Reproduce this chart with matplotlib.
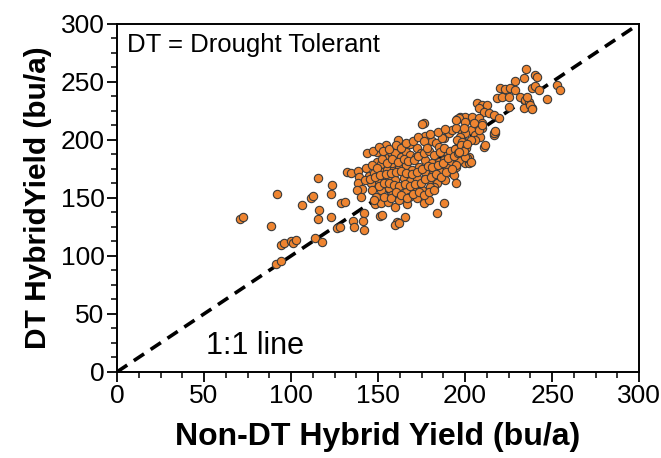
import matplotlib
matplotlib.use("Agg")
import matplotlib.pyplot as plt
from matplotlib.ticker import MultipleLocator, AutoMinorLocator

plt.rcParams['font.family'] = ['Liberation Sans', 'DejaVu Sans']

# Non-DT hybrid yield (x) and DT hybrid yield (y), bu/a
non_dt = [115.7, 92.2, 111.3, 112.6, 106.1, 70.6, 72.3, 88.2, 115.7, 94.1, 96.0, 100.2, 101.4, 103.1, 113.7,
          117.6, 91.6, 94.1, 128.9, 130.8, 148.0, 151.4, 155.6, 160.0, 166.7, 122.8, 126.2, 128.1, 135.5, 136.1,
          141.9, 141.1, 151.0, 152.0, 160.8, 165.4, 132.3, 134.2, 138.6, 139.0, 123.3, 122.8, 138.6, 140.9, 138.1,
          140.0, 116.0,
          156.2, 158.1, 149.5, 151.4, 144.7, 147.6, 152.4, 155.3, 159.1, 145.7, 150.5, 154.3, 158.1, 146.7, 151.4,
          156.2, 148.6, 153.3, 158.1,
          176.3, 175.0, 195.4, 197.3, 161.6, 177.2, 168.6, 172.5, 174.4, 181.1, 183.0, 184.9, 187.7, 190.6, 192.5,
          194.5, 198.3, 199.2, 157.2, 160.0, 162.9, 165.8, 168.6, 171.5, 177.2, 181.1, 184.9, 188.7, 191.6, 194.5,
          198.3, 158.1, 161.9, 165.8, 169.6, 173.4, 177.2, 181.1, 185.9, 189.7, 192.5, 156.2, 160.0, 164.8, 168.6,
          172.5, 179.1, 183.9, 188.7, 193.5, 161.0, 165.8, 170.5, 175.3, 182.0, 157.2, 161.9, 167.7, 172.5,
          228.9, 233.6, 220.3, 223.1, 226.0, 228.9, 238.4, 218.4, 221.2, 225.1, 231.7, 234.6, 238.4, 233.6, 225.1,
          206.9, 209.7, 212.6, 207.8, 210.7, 213.6, 216.4, 219.3, 200.2, 204.0, 196.3, 207.8, 209.7, 206.9, 209.7,
          217.4, 216.4, 203.1, 200.2, 197.3, 195.4, 205.9, 208.8, 205.9, 203.1, 198.3, 210.7, 211.7, 197.3, 202.1,
          200.2, 202.1, 195.4,
          235.2, 240.3, 241.3, 240.3, 242.6, 252.8, 254.7, 247.0, 236.6, 237.5, 238.4, 235.6,
          180.1, 194.5, 201.1, 147.6, 143.8, 149.5, 151.4, 154.3, 176.3, 179.2, 183.9, 187.7, 160.0, 161.9, 141.9,
          186.9, 188.7, 192.5, 196.3, 200.2, 203.1, 187.7, 194.5, 216.4, 217.4, 194.5, 200.2, 205.0, 207.8, 209.7,
          143.2, 146.5, 149.1, 152.3, 155.4, 158.2, 161.3, 164.6, 167.2, 170.4, 173.1, 176.5, 179.2, 182.4, 185.3,
          188.1, 191.4, 194.2, 197.5, 200.3,
          142.4, 145.1, 148.3, 151.2, 154.5, 157.3, 160.1, 163.4, 166.2, 169.5, 172.3, 175.1, 178.4, 181.2, 184.5,
          187.3, 190.2, 193.4, 196.1, 199.4,
          150.3, 153.4, 156.1, 159.3, 162.2, 165.4, 168.3, 171.2, 174.4, 177.1, 180.3, 183.2, 186.4, 189.1, 192.3,
          160.4, 163.2, 166.5, 170.1, 173.3, 176.2, 179.4, 182.1,
          147.2, 150.4, 153.1, 156.3, 160.2, 163.4, 166.1, 170.3, 173.2, 176.4, 180.1, 184.3, 188.2,
          196.3, 178.2, 199.2, 201.1]
dt = [167.0, 153.7, 150.3, 151.5, 143.7, 131.9, 133.6, 125.9, 131.6, 109.5, 111.5, 113.2, 111.5, 114.1, 115.8,
      112.3, 93.4, 95.7, 145.4, 146.8, 144.8, 145.9, 146.8, 142.0, 144.8, 133.9, 123.9, 125.3, 130.2, 124.7,
      136.8, 129.9, 134.7, 135.6, 129.1, 133.9, 172.2, 171.3, 173.5, 168.4, 161.2, 153.4, 163.2, 157.5, 156.9,
      150.6, 139.7,
      186.2, 187.9, 181.3, 179.3, 169.0, 171.3, 172.7, 174.1, 175.6, 162.7, 164.1, 165.5, 167.0, 156.9, 156.9,
      158.4, 151.1, 151.1, 152.6,
      214.9, 213.8, 217.8, 220.1, 200.0, 203.4, 196.6, 192.8, 188.5, 199.4, 197.2, 194.2, 201.4, 205.7, 208.6,
      210.1, 205.7, 198.5, 189.9, 188.5, 185.6, 189.9, 187.1, 185.6, 182.8, 179.9, 181.3, 182.8, 179.9, 177.0,
      182.8, 179.9, 175.6, 178.4, 174.1, 177.0, 172.7, 169.8, 172.7, 175.6, 171.3, 168.4, 165.5, 167.0, 164.1,
      167.0, 165.5, 162.7, 165.5, 169.8, 158.4, 155.4, 159.7, 156.9, 159.2, 149.7, 148.3, 151.1, 149.7,
      250.9, 253.7, 245.1, 244.0, 245.1, 243.1, 244.5, 235.9, 237.3, 237.3, 237.3, 234.5, 227.3, 227.3, 228.7,
      231.6, 230.2, 230.2, 227.3, 224.4, 223.0, 221.6, 218.7, 220.1, 220.1, 218.7, 218.7, 214.4, 211.5, 210.1,
      205.7, 204.3, 208.6, 205.7, 202.8, 200.0, 204.3, 202.8, 200.0, 200.0, 198.5, 194.2, 195.7, 184.2, 185.6,
      179.9, 179.9, 179.9,
      261.0, 256.0, 254.0, 246.0, 243.1, 247.4, 243.1, 235.1, 233.0, 230.2, 226.5, 237.3,
      159.7, 163.2, 184.2, 148.3, 188.5, 189.9, 192.8, 195.7, 145.4, 148.3, 136.8, 145.4, 126.7, 128.2, 122.4,
      201.5, 190.8, 187.1, 182.8, 185.6, 181.3, 182.8, 178.4, 206.3, 207.2, 217.2, 215.8, 214.4, 208.6, 212.9,
      175.4, 178.2, 176.1, 183.3, 180.2, 183.4, 181.1, 183.2, 181.4, 182.3, 186.1, 188.4, 190.2, 187.3, 189.1,
      193.2, 190.4, 192.1, 195.3, 193.2,
      165.2, 166.4, 168.1, 169.3, 170.2, 171.4, 172.3, 173.1, 171.2, 170.4, 172.1, 175.3, 177.2, 176.4, 178.1,
      180.3, 184.1, 186.2, 188.4, 190.1,
      160.2, 162.4, 163.1, 161.2, 160.3, 162.1, 160.4, 162.3, 163.2, 166.1, 168.2, 170.4, 168.1, 172.3, 175.2,
      155.3, 152.1, 150.2, 153.4, 155.1, 152.3, 155.2, 157.1,
      190.3, 194.1, 190.2, 192.4, 195.3, 193.1, 197.2, 199.4, 202.1, 199.3, 205.2, 207.1, 209.3,
      189.2, 193.1, 210.2, 196.4]

line_vals = [0, 300]

fig = plt.figure(figsize=(6.61, 4.58), dpi=100)
ax = fig.add_axes([0.177, 0.188, 0.79, 0.76])

ax.plot(line_vals, line_vals, color='black', lw=2.6, ls=(0, (3.4, 2.2)), zorder=1)
ax.scatter(non_dt, dt, s=36, facecolor='#EE8430', edgecolor='#3a3a3a', linewidth=0.8, zorder=2)

ax.set_xlim(0, 300)
ax.set_ylim(0, 300)
ax.xaxis.set_major_locator(MultipleLocator(50))
ax.yaxis.set_major_locator(MultipleLocator(50))
ax.xaxis.set_minor_locator(AutoMinorLocator(4))
ax.yaxis.set_minor_locator(AutoMinorLocator(4))
ax.tick_params(which='major', direction='out', length=7, width=1.3, labelsize=19, pad=2)
ax.tick_params(which='minor', direction='out', length=4, width=1.1)
for s in ax.spines.values():
    s.set_linewidth(1.4)

ax.set_xlabel('Non-DT Hybrid Yield (bu/a)', fontsize=23, fontweight='bold', labelpad=10)
ax.set_ylabel('DT HybridYield (bu/a)', fontsize=21.5, fontweight='bold', labelpad=6)

ax.text(0.02, 0.975, 'DT = Drought Tolerant', transform=ax.transAxes, fontsize=18.5, va='top', ha='left')
ax.text(0.17, 0.075, '1:1 line', transform=ax.transAxes, fontsize=22, va='center', ha='left')

fig.savefig('out.png', dpi=100)
